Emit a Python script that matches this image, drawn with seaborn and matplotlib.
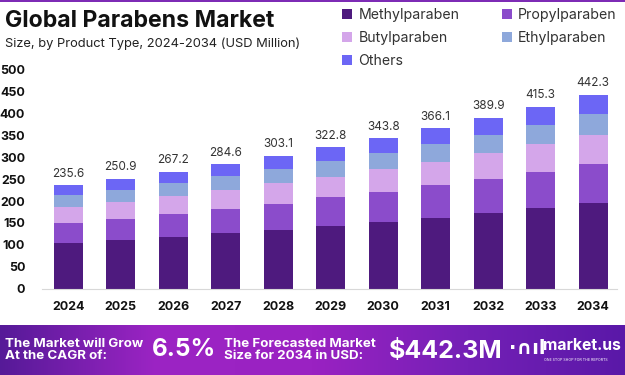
import numpy as np
import pandas as pd
import matplotlib
matplotlib.use("Agg")
import matplotlib.pyplot as plt
import seaborn as sns
from matplotlib.patches import Patch, Rectangle
from matplotlib.colors import LinearSegmentedColormap

# data (USD Million)
years = ["2024", "2025", "2026", "2027", "2028", "2029", "2030", "2031", "2032", "2033", "2034"]
totals = [235.6, 250.9, 267.2, 284.6, 303.1, 322.8, 343.8, 366.1, 389.9, 415.3, 442.3]
methyl = [104, 111, 118, 126, 134, 143, 152, 162, 172, 184, 196]
propyl = [46, 49, 53, 56, 60, 65, 69, 74, 79, 83, 88]
butyl = [37, 38, 40, 43, 46, 47, 51, 54, 58, 62, 66]
ethyl = [26, 28, 29, 32, 33, 37, 38, 40, 42, 45, 49]
segments = ["Methylparaben", "Propylparaben", "Butylparaben", "Ethylparaben", "Others"]
colors = ["#4e1a7e", "#8b4ccb", "#d4a6ea", "#8ea8db", "#6c66f5"]

others = [round(t - m - p - b - e, 1) for t, m, p, b, e in zip(totals, methyl, propyl, butyl, ethyl)]
df = pd.DataFrame({"Year": years, "Methylparaben": methyl, "Propylparaben": propyl,
                   "Butylparaben": butyl, "Ethylparaben": ethyl, "Others": others})
cum = df[segments].cumsum(axis=1)
cum["Year"] = years

sns.set_style("white")
plt.rcParams["font.family"] = ["Inter", "DejaVu Sans"]

fig = plt.figure(figsize=(6.25, 3.75), dpi=100)
ax = fig.add_axes([0.067, 0.23, 0.92, 0.585])

# draw from the top segment down so each cumulative bar covers the one below
for seg, col in reversed(list(zip(segments, colors))):
    sns.barplot(data=cum, x="Year", y=seg, color=col, width=0.55, ax=ax,
                saturation=1, edgecolor="none")

for i, t in enumerate(totals):
    ax.text(i, t + 12, f"{t:g}", ha="center", va="bottom", fontsize=8.5, color="#333333")

ax.set_ylim(0, 500)
ax.set_xlim(-0.5, 10.45)
ax.set_yticks(range(0, 501, 50))
ax.set_xlabel("")
ax.set_ylabel("")
sns.despine(ax=ax, left=True)
ax.spines["bottom"].set_color("#d8d8d8")
ax.tick_params(axis="y", length=0, pad=12, labelsize=9)
ax.tick_params(axis="x", length=0, pad=9, labelsize=9)
for lab in ax.get_yticklabels() + ax.get_xticklabels():
    lab.set_fontweight("bold")
    lab.set_color("#111111")

# title block
fig.text(0.008, 0.945, "Global Parabens Market", fontsize=16.6, fontweight="bold",
         color="#111111", va="center")
fig.text(0.008, 0.883, "Size, by Product Type, 2024-2034 (USD Million)", fontsize=9.3,
         color="#222222", va="center")

handles = [Patch(facecolor=c, edgecolor="none") for c in colors]
order = [0, 2, 4, 1, 3]
fig.legend([handles[i] for i in order], [segments[i] for i in order], ncol=2,
           loc="upper left", bbox_to_anchor=(0.527, 1.012), frameon=False,
           fontsize=10.2, handlelength=0.7, handleheight=0.7, handletextpad=0.45,
           columnspacing=3.0, labelspacing=0.62, labelcolor="#333333")

# thin purple line at the very top
fig.add_artist(Rectangle((0, 0.995), 1, 0.005, transform=fig.transFigure,
                         color="#7d2bb5", lw=0))

# bottom banner with gradient
bax = fig.add_axes([0, 0, 1, 50 / 375])
grad = np.linspace(0, 1, 256)
cmap = LinearSegmentedColormap.from_list("band", ["#561a98", "#9c24c4", "#9a22c2", "#7420b6", "#5a18a8"])
bax.imshow(grad[None, :], aspect="auto", cmap=cmap, extent=[0, 1, 0, 1])
bax.set_xlim(0, 1)
bax.set_ylim(0, 1)
bax.set_axis_off()
bax.text(0.008, 0.5, "The Market will Grow\nAt the CAGR of:", color="white", fontsize=9.6,
         fontweight="bold", va="center", linespacing=1.05)
bax.text(0.243, 0.5, "6.5%", color="white", fontsize=17.5, fontweight="bold", va="center")
bax.text(0.358, 0.5, "The Forecasted Market\nSize for 2034 in USD:", color="white", fontsize=9.6,
         fontweight="bold", va="center", linespacing=1.05)
bax.text(0.622, 0.47, "$442.3M", color="white", fontsize=18, fontweight="bold", va="center")
bax.text(0.814, 0.53, "·∩ıl", color="white", fontsize=14, fontweight="bold", va="center",
         family="DejaVu Sans")
bax.text(0.868, 0.58, "market.us", color="white", fontsize=11.3, fontweight="bold", va="center")
bax.text(0.87, 0.3, "ONE STOP SHOP FOR THE REPORTS", color="white", fontsize=2.6, va="center")

fig.savefig("out.png", dpi=100)
